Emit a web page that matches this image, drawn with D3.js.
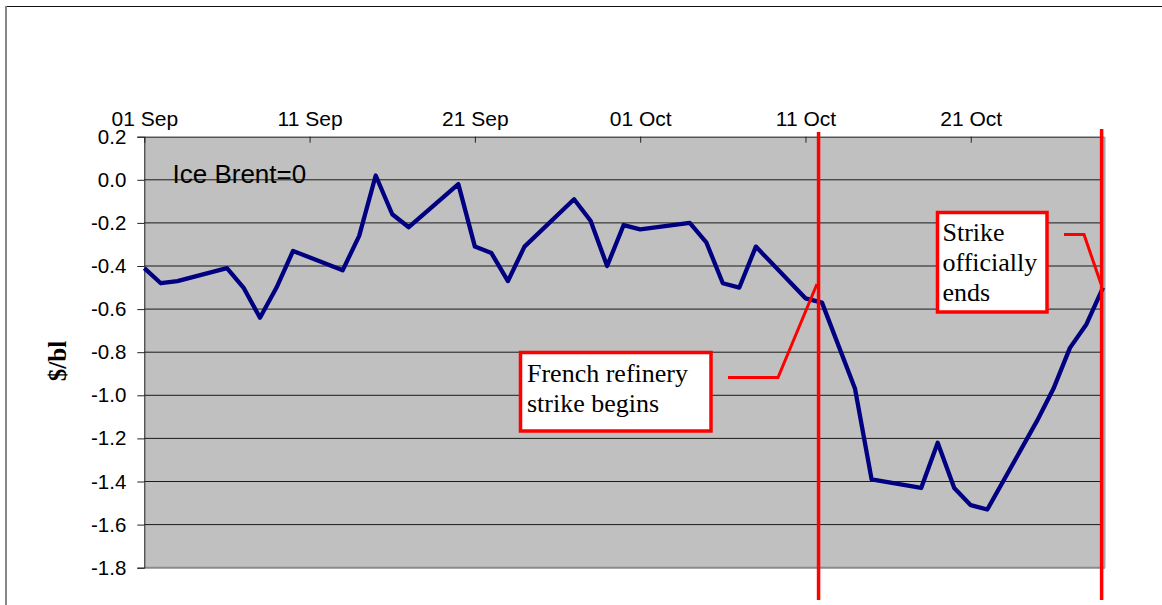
<!DOCTYPE html>
<html>
<head>
<meta charset="utf-8">
<script src="https://cdn.jsdelivr.net/npm/d3@7"></script>
<style>
body { margin: 0; background: #fff; }
svg { display: block; }
</style>
</head>
<body>
<svg id="chart" width="1162" height="605"></svg>
<script>
// data: Ice Brent spread, $/bl
var dates = ["2010-09-01","2010-09-02","2010-09-03","2010-09-06","2010-09-07","2010-09-08","2010-09-09","2010-09-10",
	"2010-09-13","2010-09-14","2010-09-15","2010-09-16","2010-09-17","2010-09-20","2010-09-21","2010-09-22",
	"2010-09-23","2010-09-24","2010-09-27","2010-09-28","2010-09-29","2010-09-30","2010-10-01","2010-10-04",
	"2010-10-05","2010-10-06","2010-10-07","2010-10-08","2010-10-11","2010-10-12","2010-10-14","2010-10-15",
	"2010-10-18","2010-10-19","2010-10-20","2010-10-21","2010-10-22","2010-10-25","2010-10-26","2010-10-27",
	"2010-10-28","2010-10-29"];
var values = [-0.41,-0.48,-0.47,-0.41,-0.50,-0.64,-0.50,-0.33,
	-0.42,-0.26,0.02,-0.16,-0.22,-0.02,-0.31,-0.34,
	-0.47,-0.31,-0.09,-0.19,-0.40,-0.21,-0.23,-0.20,
	-0.29,-0.48,-0.50,-0.31,-0.55,-0.57,-0.97,-1.39,
	-1.43,-1.22,-1.43,-1.51,-1.53,-1.12,-0.97,-0.78,
	-0.67,-0.50];
var xTicks = ["2010-09-01","2010-09-11","2010-09-21","2010-10-01","2010-10-11","2010-10-21"];
var yTicks = [0.2,0.0,-0.2,-0.4,-0.6,-0.8,-1.0,-1.2,-1.4,-1.6,-1.8];
var eventDates = ["2010-10-11T19:00","2010-10-28T22:00"];

var svg = d3.select("#chart");
var plotL = 144.3, plotR = 1103, plotT = 136.7, plotB = 567.7;

var parse = d3.timeParse("%Y-%m-%d");
var parseT = d3.timeParse("%Y-%m-%dT%H:%M");
var data = dates.map(function(d, i) {
	return { date: parse(d), value: values[i] };
});

var x = d3.scaleTime()
	.domain([parse("2010-09-01"), parse("2010-10-29")])
	.range([plotL, plotR]);
var y = d3.scaleLinear()
	.domain([-1.8, 0.2])
	.range([plotB, plotT]);

// outer frame
svg.append("line").attr("x1", 6).attr("x2", 1162).attr("y1", 6.5).attr("y2", 6.5)
	.attr("stroke", "#111").attr("stroke-width", 1.2);
svg.append("line").attr("x1", 6).attr("x2", 6).attr("y1", 6).attr("y2", 605)
	.attr("stroke", "#888").attr("stroke-width", 2);

// plot area
svg.append("rect")
	.attr("x", plotL).attr("y", plotT)
	.attr("width", plotR - plotL + 2).attr("height", plotB - plotT)
	.attr("fill", "#c0c0c0");

// grid
svg.append("g")
	.selectAll("line")
	.data(yTicks.slice(1, -1))
	.enter()
	.append("line")
	.attr("x1", plotL).attr("x2", plotR)
	.attr("y1", function(d) { return y(d); })
	.attr("y2", function(d) { return y(d); })
	.attr("stroke", "#1a1a1a")
	.attr("stroke-width", 1);

// bottom / right border of plot
svg.append("line").attr("x1", plotL).attr("x2", plotR + 2).attr("y1", plotB).attr("y2", plotB)
	.attr("stroke", "#8a8a8a").attr("stroke-width", 2);
svg.append("line").attr("x1", plotR + 1.5).attr("x2", plotR + 1.5).attr("y1", plotT).attr("y2", plotB)
	.attr("stroke", "#a8a8a8").attr("stroke-width", 2);

// y axis
var yAxis = svg.append("g")
	.attr("transform", "translate(" + plotL + ",0)")
	.call(d3.axisLeft(y)
		.tickValues(yTicks)
		.tickFormat(function(d) { return d.toFixed(1); })
		.tickSize(7)
		.tickPadding(11));
yAxis.selectAll("text")
	.attr("font-family", "'Liberation Sans', Arial, sans-serif")
	.attr("font-size", 20.5)
	.attr("fill", "#000");
yAxis.selectAll("line, path").attr("stroke", "#222");

// x axis on top, ticks inward
var xAxis = svg.append("g")
	.attr("transform", "translate(0," + plotT + ")")
	.call(d3.axisTop(x)
		.tickValues(xTicks.map(parse))
		.tickFormat(d3.timeFormat("%d %b"))
		.tickSizeInner(-6)
		.tickSizeOuter(0)
		.tickPadding(11));
xAxis.selectAll("text")
	.attr("font-family", "'Liberation Sans', Arial, sans-serif")
	.attr("font-size", 21)
	.attr("fill", "#000");
xAxis.selectAll("line, path").attr("stroke", "#222");

// y title
svg.append("text")
	.attr("transform", "translate(66,361) rotate(-90)")
	.attr("text-anchor", "middle")
	.attr("font-family", "'Liberation Serif', 'Times New Roman', serif")
	.attr("font-weight", "bold")
	.attr("font-size", 25)
	.text("$/bl");

svg.append("text")
	.attr("x", 172.5).attr("y", 183)
	.attr("font-family", "'Liberation Sans', Arial, sans-serif")
	.attr("font-size", 26)
	.attr("fill", "#000")
	.text("Ice Brent=0");

// the spread line
var line = d3.line()
	.x(function(d) { return x(d.date); })
	.y(function(d) { return y(d.value); });
svg.append("path")
	.datum(data)
	.attr("d", line)
	.attr("fill", "none")
	.attr("stroke", "#000080")
	.attr("stroke-width", 4.3)
	.attr("stroke-linejoin", "round");

// strike start / end markers
svg.append("g")
	.selectAll("line")
	.data(eventDates)
	.enter()
	.append("line")
	.attr("x1", function(d) { return x(parseT(d)); })
	.attr("x2", function(d) { return x(parseT(d)); })
	.attr("y1", function(d, i) { return i == 0 ? 132 : 129; })
	.attr("y2", 600)
	.attr("stroke", "#ff0000")
	.attr("stroke-width", 3.5);

// callouts
var serif = "'Liberation Serif', 'Times New Roman', serif";
svg.append("polyline")
	.attr("points", "728,377.5 778,377.5 817,284")
	.attr("fill", "none").attr("stroke", "#ff0000").attr("stroke-width", 3);
svg.append("polyline")
	.attr("points", "1064,234.5 1084,234.5 1101,284")
	.attr("fill", "none").attr("stroke", "#ff0000").attr("stroke-width", 3);

svg.append("rect")
	.attr("x", 520.5).attr("y", 352.5).attr("width", 190.5).attr("height", 78.5)
	.attr("fill", "#fff").attr("stroke", "#ff0000").attr("stroke-width", 3.5);
svg.append("rect")
	.attr("x", 937.5).attr("y", 212.5).attr("width", 109.5).attr("height", 99.5)
	.attr("fill", "#fff").attr("stroke", "#ff0000").attr("stroke-width", 3.5);

var box1 = ["French refinery", "strike begins"];
svg.append("g")
	.selectAll("text")
	.data(box1)
	.enter()
	.append("text")
	.attr("x", 527)
	.attr("y", function(d, i) { return 382 + i * 30; })
	.attr("font-family", serif)
	.attr("font-size", 26)
	.attr("fill", "#000")
	.text(function(d) { return d; });

var box2 = ["Strike", "officially", "ends"];
svg.append("g")
	.selectAll("text")
	.data(box2)
	.enter()
	.append("text")
	.attr("x", 942.5)
	.attr("y", function(d, i) { return 240.5 + i * 30; })
	.attr("font-family", serif)
	.attr("font-size", 26)
	.attr("fill", "#000")
	.text(function(d) { return d; });
</script>
</body>
</html>
